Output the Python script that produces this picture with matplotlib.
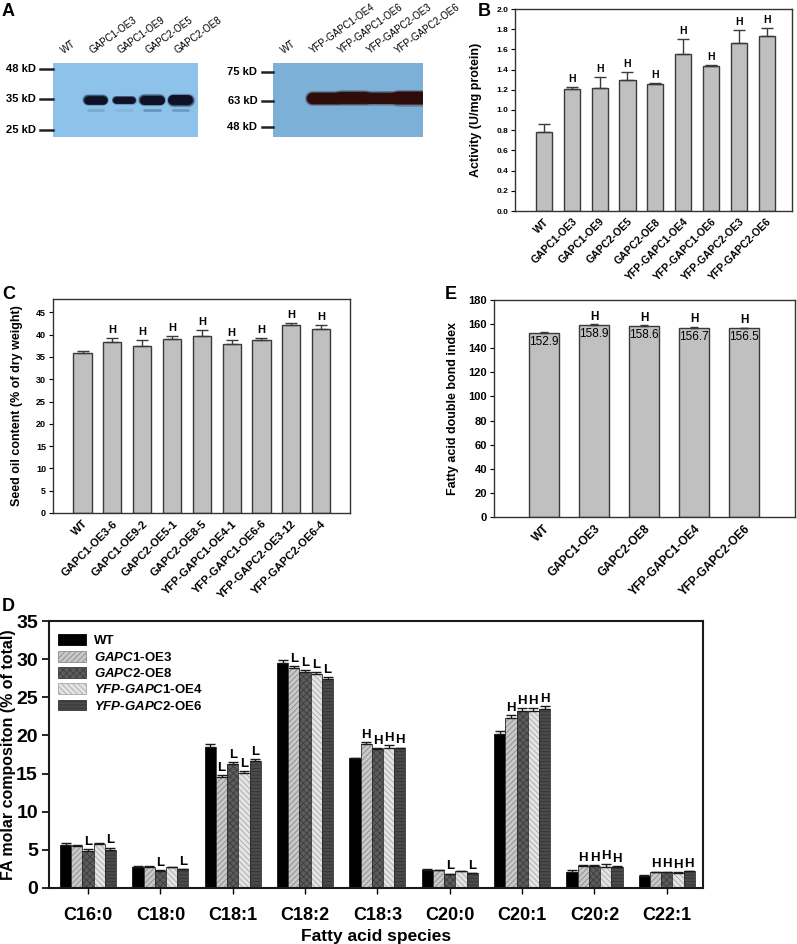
import matplotlib
matplotlib.use("Agg")
import matplotlib.pyplot as plt
from matplotlib.patches import Patch

plt.rcParams['font.family'] = ['Liberation Sans', 'DejaVu Sans']
plt.rcParams['font.weight'] = 'bold'
plt.rcParams['axes.labelweight'] = 'bold'
plt.rcParams['mathtext.fontset'] = 'custom'
plt.rcParams['mathtext.it'] = 'Liberation Sans:italic:bold'
plt.rcParams['mathtext.rm'] = 'Liberation Sans:bold'
plt.rcParams['hatch.linewidth'] = 0.6

# ---------------- data ----------------
# A: western blots
blot1_lanes = ["WT", "GAPC1-OE3", "GAPC1-OE9", "GAPC2-OE5", "GAPC2-OE8"]
blot1_markers = ["48 kD", "35 kD", "25 kD"]
blot1_marker_pos = [0.08, 0.49, 0.91]
blot1_band = [0.0, 0.95, 0.75, 1.0, 1.1]
blot1_faint = [0.0, 0.25, 0.12, 0.45, 0.4]

blot2_lanes = ["WT", "YFP-GAPC1-OE4", "YFP-GAPC1-OE6", "YFP-GAPC2-OE3", "YFP-GAPC2-OE6"]
blot2_markers = ["75 kD", "63 kD", "48 kD"]
blot2_marker_pos = [0.12, 0.52, 0.87]
blot2_band = [0.0, 0.95, 1.0, 0.92, 1.05]

# B: GAPC activity
act_lines = ["WT", "GAPC1-OE3", "GAPC1-OE9", "GAPC2-OE5", "GAPC2-OE8",
             "YFP-GAPC1-OE4", "YFP-GAPC1-OE6", "YFP-GAPC2-OE3", "YFP-GAPC2-OE6"]
act_mean = [0.78, 1.21, 1.22, 1.30, 1.26, 1.55, 1.44, 1.66, 1.73]
act_err = [0.08, 0.02, 0.11, 0.08, 0.01, 0.15, 0.01, 0.13, 0.08]
act_sig = ["", "H", "H", "H", "H", "H", "H", "H", "H"]

# C: seed oil content
oil_lines = ["WT", "GAPC1-OE3-6", "GAPC1-OE9-2", "GAPC2-OE5-1", "GAPC2-OE8-5",
             "YFP-GAPC1-OE4-1", "YFP-GAPC1-OE6-6", "YFP-GAPC2-OE3-12", "YFP-GAPC2-OE6-4"]
oil_mean = [35.9, 38.4, 37.5, 39.1, 39.8, 38.0, 38.8, 42.1, 41.3]
oil_err = [0.5, 0.9, 1.3, 0.6, 1.3, 0.7, 0.5, 0.6, 0.9]
oil_sig = ["", "H", "H", "H", "H", "H", "H", "H", "H"]

# E: double bond index
dbi_lines = ["WT", "GAPC1-OE3", "GAPC2-OE8", "YFP-GAPC1-OE4", "YFP-GAPC2-OE6"]
dbi_mean = [152.9, 158.9, 158.6, 156.7, 156.5]
dbi_err = [0.3, 0.8, 0.4, 0.7, 0.6]
dbi_sig = ["", "H", "H", "H", "H"]

# D: fatty acid composition
fa_species = ["C16:0", "C18:0", "C18:1", "C18:2", "C18:3", "C20:0", "C20:1", "C20:2", "C22:1"]
fa_genotypes = ["WT", "$\\it{GAPC1}$-OE3", "$\\it{GAPC2}$-OE8",
                "$\\it{YFP}$-$\\it{GAPC1}$-OE4", "$\\it{YFP}$-$\\it{GAPC2}$-OE6"]
fa_wt = [5.6, 2.8, 18.5, 29.5, 17.0, 2.4, 20.2, 2.1, 1.6]
fa_c1 = [5.5, 2.8, 14.6, 28.9, 18.9, 2.3, 22.3, 2.9, 2.1]
fa_c2 = [4.9, 2.25, 16.3, 28.3, 18.2, 1.85, 23.2, 2.9, 2.1]
fa_y1 = [5.8, 2.7, 15.1, 28.0, 18.4, 2.2, 23.2, 2.8, 2.0]
fa_y2 = [5.0, 2.45, 16.6, 27.4, 18.3, 1.95, 23.5, 2.75, 2.2]
fa_wt_err = [0.3, 0.05, 0.4, 0.4, 0.1, 0.15, 0.4, 0.3, 0.1]
fa_c1_err = [0.15, 0.05, 0.2, 0.15, 0.2, 0.05, 0.4, 0.1, 0.05]
fa_c2_err = [0.25, 0.05, 0.2, 0.3, 0.1, 0.05, 0.4, 0.1, 0.05]
fa_y1_err = [0.15, 0.05, 0.2, 0.3, 0.3, 0.05, 0.4, 0.4, 0.05]
fa_y2_err = [0.3, 0.05, 0.3, 0.2, 0.1, 0.05, 0.4, 0.1, 0.05]
fa_c1_sig = ["", "", "L", "L", "H", "", "H", "H", "H"]
fa_c2_sig = ["L", "L", "L", "L", "H", "L", "H", "H", "H"]
fa_y1_sig = ["", "", "L", "L", "H", "", "H", "H", "H"]
fa_y2_sig = ["L", "L", "L", "L", "H", "L", "H", "H", "H"]
fa_wt_sig = [""] * 9

# ---------------- figure ----------------
W, H = 797, 944
fig = plt.figure(figsize=(W / 100, H / 100), dpi=100)


def px_axes(l, t, r, b):
    return fig.add_axes([l / W, 1 - b / H, (r - l) / W, (b - t) / H])


def draw_blot(ax, lanes, markers, mpos, band, band_y, bg, core, xlim, lw,
              half, lab_off, dash, faint=None, faint_y=None, faint_col=None):
    ax.set_xlim(*xlim)
    ax.set_ylim(1, 0)
    ax.set_facecolor(bg)
    ax.set_xticks([])
    ax.set_yticks([])
    for s in ax.spines.values():
        s.set_visible(False)
    if faint is not None:
        for i, v in enumerate(faint):
            if v > 0:
                ax.plot([i - half, i + half], [faint_y, faint_y], color=faint_col,
                        alpha=v, lw=2.0, solid_capstyle='round')
    for i, v in enumerate(band):
        if v <= 0:
            continue
        for k, a in [(1.35, 0.25), (1.15, 0.5), (1.0, 1.0)]:
            ax.plot([i - half, i + half], [band_y, band_y], color=core, alpha=a,
                    lw=lw * k * v, solid_capstyle='round')
    for i, name in enumerate(lanes):
        ax.text(i + lab_off, -0.1, name, rotation=36, ha='left', va='bottom',
                rotation_mode='anchor', fontsize=7, fontweight='normal', clip_on=False)
    tr = ax.get_yaxis_transform()
    for m, y in zip(markers, mpos):
        ax.plot([-dash, 0], [y, y], color='#222222', lw=1.8, transform=tr, clip_on=False)
        ax.text(-dash - 0.03, y, m, transform=tr, ha='right', va='center', fontsize=8)


ax_b1 = px_axes(53, 63, 198, 137)
draw_blot(ax_b1, blot1_lanes, blot1_markers, blot1_marker_pos, blot1_band, 0.5,
          '#8dc3ea', '#0e1226', (-0.5, 4.62), 6.5, 0.28, -0.07, 0.09,
          blot1_faint, 0.64, '#3e5f86')
ax_b2 = px_axes(273, 63, 423, 137)
draw_blot(ax_b2, blot2_lanes, blot2_markers, blot2_marker_pos, blot2_band, 0.47,
          '#7db0d6', '#2e0c0a', (-0.8, 4.46), 8.5, 0.42, -0.37, 0.075)


def gray_bars(ax, labels, mean, err, sig, ylim, yticks, fmt, ylabel, width,
              xlim, tick_fs, lab_fs, xlab_fs, ylab_x, sig_off, cap):
    x = range(len(mean))
    ax.bar(x, mean, width=width, color='#c0c0c0', edgecolor='#3a3a3a', lw=1.0, zorder=2)
    ax.errorbar(x, mean, yerr=[[0] * len(err), err], fmt='none', ecolor='#3a3a3a',
                elinewidth=1.0, capsize=cap, capthick=1.0, zorder=3)
    for i, (m, e, s) in enumerate(zip(mean, err, sig)):
        if s:
            ax.text(i, m + e + sig_off, s, ha='center', va='bottom', fontsize=lab_fs)
    ax.set_xlim(*xlim)
    ax.set_ylim(*ylim)
    ax.set_yticks(yticks)
    ax.set_yticklabels([fmt.format(v) for v in yticks])
    ax.set_xticks(list(x))
    ax.set_xticklabels(labels, rotation=45, ha='right', rotation_mode='anchor',
                       fontsize=xlab_fs)
    ax.tick_params(axis='y', labelsize=tick_fs, length=3, width=0.8, pad=2, direction='out')
    ax.tick_params(axis='x', length=0, pad=4)
    for s in ax.spines.values():
        s.set_color('#333333')
        s.set_linewidth(1.0)
    ax.set_ylabel(ylabel, fontsize=9)
    ax.yaxis.set_label_coords(ylab_x, 0.5)


# B
ax_B = px_axes(515, 9, 792, 211)
gray_bars(ax_B, act_lines, act_mean, act_err, act_sig, (0, 2.0),
          [i * 0.2 for i in range(11)], "{:.1f}", "Activity (U/mg protein)",
          0.58, (-1.04, 8.91), 6, 7.5, 7.5, -0.12, 0.03, 4)

# C
ax_C = px_axes(53, 299, 350, 513)
gray_bars(ax_C, oil_lines, oil_mean, oil_err, oil_sig, (0, 48),
          list(range(0, 50, 5)), "{:d}", "Seed oil content (% of dry weight)",
          0.61, (-0.99, 8.97), 6.5, 8, 8, -0.1, 0.6, 4)

# E
ax_E = px_axes(494, 300, 795, 517)
gray_bars(ax_E, dbi_lines, dbi_mean, dbi_err, dbi_sig, (0, 180),
          list(range(0, 200, 20)), "{:d}", "Fatty acid double bond index",
          0.6, (-1.0, 5.02), 8, 8.5, 8.5, -0.115, 1.5, 3)
for i, v in enumerate(dbi_mean):
    ax_E.text(i, v - 2.5, f"{v:.1f}", ha='center', va='top', fontsize=8.5,
              fontweight='normal', zorder=4)

# D
ax_D = px_axes(49, 621, 703, 888)
fa_vals = [fa_wt, fa_c1, fa_c2, fa_y1, fa_y2]
fa_errs = [fa_wt_err, fa_c1_err, fa_c2_err, fa_y1_err, fa_y2_err]
fa_sigs = [fa_wt_sig, fa_c1_sig, fa_c2_sig, fa_y1_sig, fa_y2_sig]
fa_face = ['#000000', '#c8c8c8', '#5c5c5c', '#e4e4e4', '#4a4a4a']
fa_hatch_col = ['#000000', '#8a8a8a', '#3c3c3c', '#a8a8a8', '#333333']
fa_hatch = [None, '//////', 'xxxxx', '\\\\\\\\\\\\', '-----']
bw = 0.155
handles = []
for k in range(5):
    xs = [g + (k - 2) * bw for g in range(len(fa_species))]
    ax_D.bar(xs, fa_vals[k], width=bw, color=fa_face[k], edgecolor=fa_hatch_col[k],
             hatch=fa_hatch[k], lw=0, zorder=2)
    ax_D.bar(xs, fa_vals[k], width=bw, fill=False, edgecolor='#2a2a2a', lw=0.6, zorder=2)
    ax_D.errorbar(xs, fa_vals[k], yerr=[[0] * len(xs), fa_errs[k]], fmt='none',
                  ecolor='#1a1a1a', elinewidth=1.0, capsize=3.5, capthick=1.0, zorder=3)
    for x, v, e, s in zip(xs, fa_vals[k], fa_errs[k], fa_sigs[k]):
        if s:
            ax_D.text(x, v + e + 0.15, s, ha='center', va='bottom', fontsize=9.5)
    handles.append(Patch(facecolor=fa_face[k], edgecolor=fa_hatch_col[k],
                         hatch=fa_hatch[k], lw=0.6, label=fa_genotypes[k]))
ax_D.legend(handles=handles, loc='upper left', bbox_to_anchor=(0.0, 0.985),
            frameon=False, fontsize=9.5, handlelength=2.1, handleheight=0.9,
            labelspacing=0.25, handletextpad=0.6, borderaxespad=0.3)
ax_D.set_xlim(-0.54, 8.5)
ax_D.set_ylim(0, 35)
ax_D.set_yticks(range(0, 40, 5))
ax_D.set_xticks(range(len(fa_species)))
ax_D.set_xticklabels(fa_species, fontsize=13)
ax_D.tick_params(axis='y', labelsize=14, length=5, width=1.2, pad=3)
ax_D.tick_params(axis='x', length=4, width=1.0, pad=10)
for s in ax_D.spines.values():
    s.set_color('#1a1a1a')
    s.set_linewidth(1.5)
ax_D.set_ylabel("FA molar compositon (% of total)", fontsize=11.5)
ax_D.yaxis.set_label_coords(-0.05, 0.5)
ax_D.set_xlabel("Fatty acid species", fontsize=12.5, labelpad=3)

# panel letters
for lab, x, y in [("A", 2, 3), ("B", 478, 3), ("C", 2, 286), ("D", 2, 598), ("E", 445, 286)]:
    fig.text(x / W, 1 - y / H, lab, ha='left', va='top', fontsize=13)

fig.savefig("out.png", dpi=100)
